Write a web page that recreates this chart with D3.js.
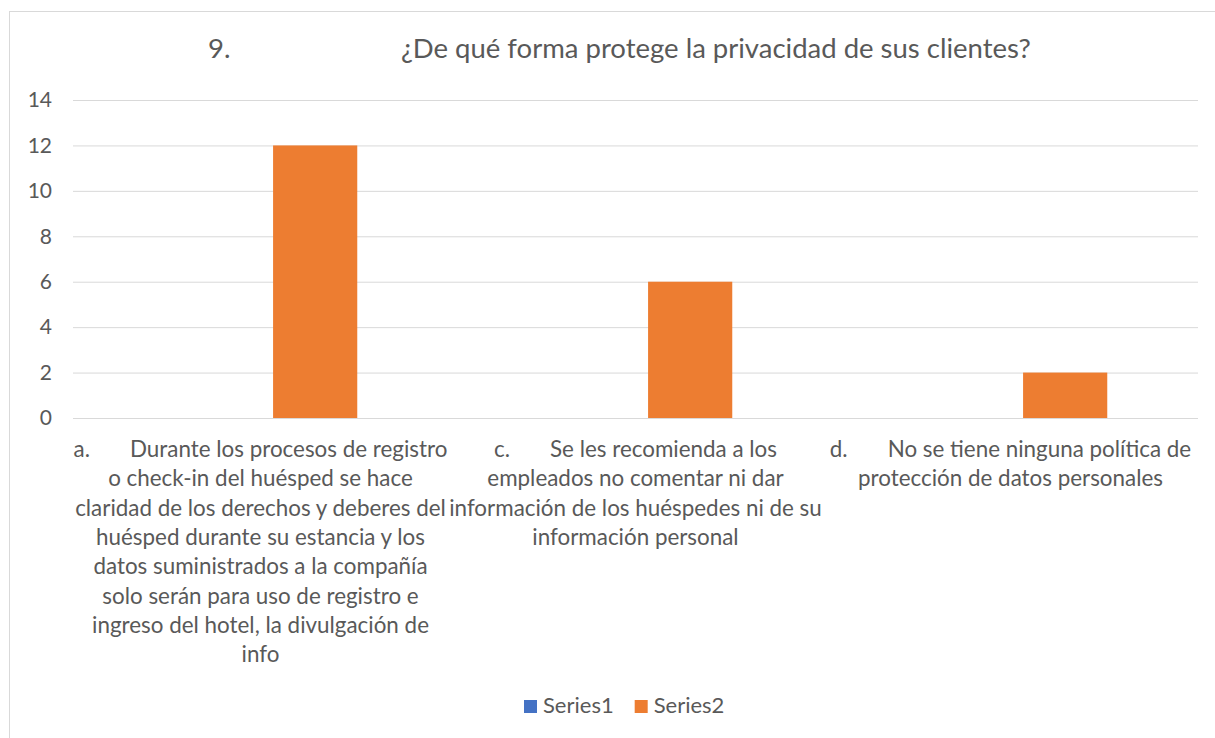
<!DOCTYPE html>
<html>
<head>
<meta charset="utf-8">
<script src="https://cdn.jsdelivr.net/npm/d3@7"></script>
<style>
  body { margin: 0; background: #fff; }
  svg text { font-family: Lato, "Open Sans", sans-serif; fill: #595959; }
</style>
</head>
<body>
<svg id="chart" width="1215" height="738"></svg>
<script>
// data
var titleNum = "9.";
var titleText = "¿De qué forma protege la privacidad de sus clientes?";

var categories = ["a", "c", "d"];
// wrapped category labels, "\t" marks the tab after the letter
var categoryLines = [
    ["a.\tDurante los procesos de registro",
     "o check-in del huésped se hace",
     "claridad de los derechos y deberes del",
     "huésped durante su estancia y los",
     "datos suministrados a la compañía",
     "solo serán para uso de registro e",
     "ingreso del hotel, la divulgación de",
     "info"],
    ["c.\tSe les recomienda a los",
     "empleados no comentar ni dar",
     "información de los huéspedes ni de su",
     "información personal"],
    ["d.\tNo se tiene ninguna política de",
     "protección de datos personales"]
];
var seriesNames = ["Series1", "Series2"];
var series1 = [0, 0, 0];
var series2 = [12, 6, 2];
var seriesColors = ["#4472C4", "#ED7D31"];
var yTicks = [0, 2, 4, 6, 8, 10, 12, 14];

var svg = d3.select("#chart");
var margin = {left: 73, right: 17, top: 100, bottom: 320};
var width = +svg.attr("width"), height = +svg.attr("height");

// chart frame
svg.append("rect")
    .attr("x", 9.5).attr("y", 11.5)
    .attr("width", 1220).attr("height", 740)
    .attr("fill", "none").attr("stroke", "#d9d9d9").attr("stroke-width", 1);

var x0 = d3.scaleBand()
    .domain(categories)
    .range([margin.left, width - margin.right])
    .padding(0);

var x1 = d3.scaleBand()
    .domain(seriesNames)
    .range([0, x0.bandwidth()])
    .paddingInner(0.23)
    .paddingOuter(0.83);

var y = d3.scaleLinear()
    .domain([0, 14])
    .range([height - margin.bottom, margin.top]);

// gridlines + y labels
var yAxis = d3.axisLeft(y)
    .tickValues(yTicks)
    .tickSize(-(width - margin.right - margin.left))
    .tickPadding(21);

var gy = svg.append("g")
    .attr("transform", "translate(" + margin.left + ",0)")
    .call(yAxis);
gy.select(".domain").remove();
gy.selectAll(".tick line").attr("stroke", "#d9d9d9").attr("stroke-width", 1);
gy.selectAll(".tick text")
    .attr("font-size", 21)
    .attr("fill", "#595959");

// bars
var rows = categories.map(function(c, i) {
    return {cat: c, values: [series1[i], series2[i]]};
});

var groups = svg.selectAll(".cat")
    .data(rows)
    .enter().append("g")
    .attr("class", "cat")
    .attr("transform", function(d) { return "translate(" + x0(d.cat) + ",0)"; });

groups.selectAll("rect")
    .data(function(d) {
        return d.values.map(function(v, j) { return {s: seriesNames[j], v: v, j: j}; });
    })
    .enter().append("rect")
    .attr("x", function(d) { return x1(d.s); })
    .attr("width", x1.bandwidth())
    .attr("y", function(d) { return y(d.v); })
    .attr("height", function(d) { return y(0) - y(d.v); })
    .attr("fill", function(d) { return seriesColors[d.j]; });

// category labels
var labelTop = y(0) + 39;
var lineH = 29.3;
categories.forEach(function(c, i) {
    var cx = x0(c) + x0.bandwidth() / 2;
    var t = svg.append("text")
        .attr("text-anchor", "middle")
        .attr("font-size", 22.4);
    categoryLines[i].forEach(function(line, k) {
        var parts = line.split("\t");
        t.append("tspan")
            .attr("x", cx)
            .attr("y", labelTop + k * lineH)
            .text(parts[0]);
        if (parts.length > 1) {
            t.append("tspan").attr("dx", 40).text(parts[1]);
        }
    });
});

// title
svg.append("text")
    .attr("x", 208).attr("y", 58)
    .attr("font-size", 27.5)
    .text(titleNum);
svg.append("text")
    .attr("x", 401).attr("y", 58)
    .attr("font-size", 27.5)
    .text(titleText);

// legend
var legend = svg.append("g").attr("transform", "translate(524,700)");
var lx = 0;
seriesNames.forEach(function(name, i) {
    var g = legend.append("g").attr("transform", "translate(" + lx + ",0)");
    g.append("rect").attr("width", 13).attr("height", 13).attr("fill", seriesColors[i]);
    var txt = g.append("text").attr("x", 19).attr("y", 13).attr("font-size", 22).text(name);
    lx += 19 + txt.node().getComputedTextLength() + 21;
});
</script>
</body>
</html>
